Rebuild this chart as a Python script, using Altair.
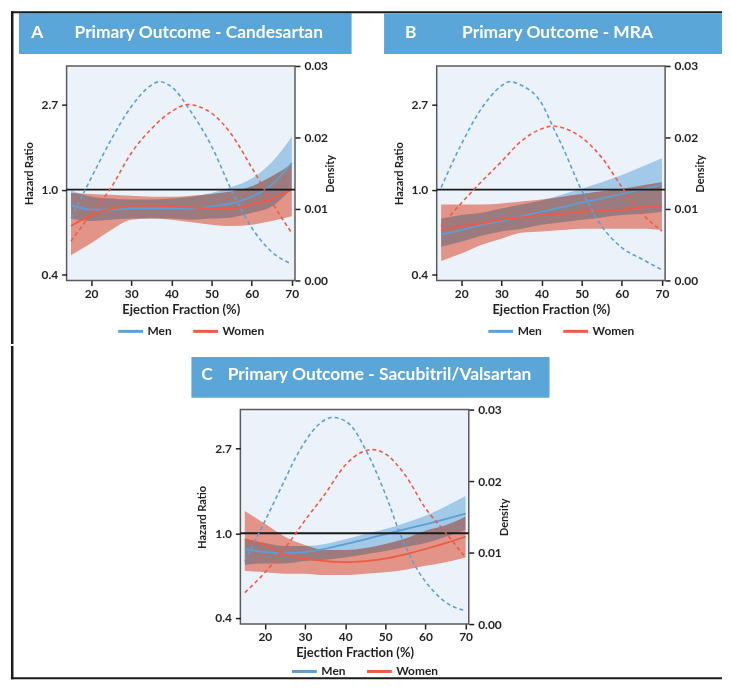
import altair as alt
import pandas as pd

# ---------------- data ----------------
EF = [15, 20, 25, 30, 35, 40, 45, 50, 55, 60, 65, 70]

# Panel A - Candesartan
a_men_hr = [0.83, 0.79, 0.79, 0.80, 0.80, 0.80, 0.80, 0.82, 0.85, 0.92, 1.06, 1.37]
a_men_lo = [0.71, 0.69, 0.70, 0.71, 0.71, 0.71, 0.70, 0.71, 0.72, 0.76, 0.82, 1.01]
a_men_hi = [0.99, 0.92, 0.90, 0.89, 0.89, 0.90, 0.92, 0.96, 1.03, 1.14, 1.38, 1.87]
a_wom_hr = [0.65, 0.74, 0.80, 0.82, 0.83, 0.82, 0.81, 0.80, 0.80, 0.84, 0.90, 1.00]
a_wom_lo = [0.46, 0.53, 0.62, 0.70, 0.71, 0.70, 0.68, 0.66, 0.65, 0.66, 0.69, 0.73]
a_wom_hi = [0.96, 0.95, 0.94, 0.93, 0.92, 0.92, 0.93, 0.95, 0.98, 1.04, 1.17, 1.35]
a_mden_x = [15, 20, 25, 30, 35, 37, 40, 45, 50, 55, 60, 65, 70]
a_mden = [0.0087, 0.0143, 0.0197, 0.0243, 0.0273, 0.0278, 0.0271, 0.0235, 0.0188, 0.0126, 0.0074, 0.0040, 0.0023]
a_wden_x = [15, 20, 25, 30, 35, 40, 44, 50, 55, 60, 65, 70]
a_wden = [0.0055, 0.0093, 0.0130, 0.0178, 0.0212, 0.0236, 0.0246, 0.0234, 0.0204, 0.0158, 0.0110, 0.0066]

# Panel B - MRA
b_men_hr = [0.59, 0.62, 0.66, 0.69, 0.73, 0.77, 0.81, 0.86, 0.90, 0.95, 1.00, 1.06]
b_men_lo = [0.51, 0.54, 0.58, 0.61, 0.63, 0.66, 0.68, 0.70, 0.72, 0.74, 0.75, 0.77]
b_men_hi = [0.71, 0.74, 0.76, 0.80, 0.84, 0.88, 0.94, 1.01, 1.09, 1.19, 1.31, 1.45]
b_wom_hr = [0.62, 0.65, 0.67, 0.70, 0.72, 0.74, 0.75, 0.77, 0.78, 0.79, 0.81, 0.82]
b_wom_lo = [0.43, 0.47, 0.52, 0.56, 0.60, 0.61, 0.62, 0.63, 0.63, 0.63, 0.63, 0.62]
b_wom_hi = [0.84, 0.84, 0.84, 0.85, 0.87, 0.89, 0.92, 0.95, 0.98, 1.01, 1.05, 1.09]
b_mden_x = [15, 20, 25, 30, 32, 35, 40, 43, 45, 50, 55, 60, 65, 70]
b_mden = [0.0130, 0.0190, 0.0240, 0.0272, 0.0278, 0.0273, 0.0248, 0.0213, 0.0190, 0.0126, 0.0076, 0.0046, 0.0030, 0.0015]
b_wden_x = [15, 20, 25, 30, 35, 40, 43, 45, 50, 55, 60, 65, 70]
b_wden = [0.0076, 0.0108, 0.0138, 0.0166, 0.0195, 0.0212, 0.0216, 0.0214, 0.0200, 0.0172, 0.0131, 0.0094, 0.0069]

# Panel C - Sacubitril/Valsartan
c_men_hr = [0.83, 0.80, 0.79, 0.80, 0.83, 0.88, 0.93, 0.99, 1.05, 1.11, 1.18, 1.26]
c_men_lo = [0.69, 0.70, 0.70, 0.72, 0.73, 0.75, 0.78, 0.81, 0.85, 0.89, 0.96, 1.04]
c_men_hi = [0.94, 0.89, 0.86, 0.86, 0.88, 0.93, 0.99, 1.05, 1.13, 1.23, 1.37, 1.55]
c_wom_hr = [0.93, 0.87, 0.78, 0.74, 0.72, 0.71, 0.72, 0.74, 0.78, 0.83, 0.89, 0.96]
c_wom_lo = [0.64, 0.63, 0.62, 0.62, 0.61, 0.61, 0.62, 0.63, 0.65, 0.68, 0.71, 0.75]
c_wom_hi = [1.30, 1.12, 0.96, 0.87, 0.82, 0.82, 0.84, 0.88, 0.94, 1.03, 1.10, 1.22]
c_mden_x = [15, 20, 25, 27.5, 30, 33, 37, 41, 45, 50, 54, 58, 62, 66, 70]
c_mden = [0.0088, 0.0144, 0.0202, 0.0231, 0.0255, 0.0277, 0.0289, 0.0280, 0.0245, 0.0182, 0.0122, 0.0076, 0.0046, 0.0027, 0.0019]
c_wden_x = [15, 20, 25, 30, 35, 40, 44, 47, 50, 55, 60, 65, 70]
c_wden = [0.0044, 0.0072, 0.0106, 0.0145, 0.0182, 0.0222, 0.0240, 0.0244, 0.0238, 0.0208, 0.0162, 0.0128, 0.0093]

SEXES = ["Men", "Women"]
HR_TICKS = [0.36788, 1.0, 2.71828]
X_TICKS = [20, 30, 40, 50, 60, 70]
D_TICKS = [0.0, 0.01, 0.02, 0.03]

# ---------------- style ----------------
FONT = "Lato"
INK = "#231f20"
BLUE = "#5b9fd6"
RED = "#ef5a44"
RED_BAND = "#ef5a3c"
BANNER = "#5ba6d8"
BG = "#ebf2fa"
FRAME = "#1a1a1a"
W, H = 230, 216
PAD = {"left": 2, "top": 0, "right": 0, "bottom": 0}

x_scale = alt.Scale(domain=[13.9, 70.8], nice=False, zero=False)
hr_scale = alt.Scale(type="log", domain=[0.342, 4.31], nice=False)
d_scale = alt.Scale(domain=[0, 0.03], nice=False, zero=False)

x_axis = alt.Axis(title="Ejection Fraction (%)", values=X_TICKS, format="d",
                  tickSize=5, labelPadding=3, titlePadding=4, titleFontSize=13)
hr_axis = alt.Axis(title="Hazard Ratio", values=HR_TICKS, format=".1f",
                   tickSize=5, labelPadding=4, titlePadding=7, titleFontSize=11)
d_axis = alt.Axis(title="Density", orient="right", values=D_TICKS, format=".2f",
                  titleAngle=270, tickSize=5, labelPadding=4, titlePadding=8,
                  titleFontSize=11)

one = pd.DataFrame({"v": [1.0]})


def make_legend(ly):
    # short flat path drawn wider than its nominal symbol box
    return alt.Legend(orient="none", legendX=58, legendY=ly, direction="horizontal",
                      title=None, symbolType="M-2.5,0H2.5", symbolSize=100,
                      symbolStrokeWidth=3, labelOffset=10.5, columnPadding=15.5,
                      labelFontSize=12, labelFont=FONT, labelFontWeight="bold",
                      labelColor=INK)


def panel(letter, title, hr, mden, wden, box, lx, tx, ty, frame, ly):
    m_hr, m_lo, m_hi, w_hr, w_lo, w_hi = hr
    men = pd.DataFrame({"ef": EF, "hr": m_hr, "lo": m_lo, "hi": m_hi, "sex": SEXES[0]})
    wom = pd.DataFrame({"ef": EF, "hr": w_hr, "lo": w_lo, "hi": w_hi, "sex": SEXES[1]})
    both = pd.concat([men, wom], ignore_index=True)
    md = pd.DataFrame({"ef": mden[0], "d": mden[1]})
    wd = pd.DataFrame({"ef": wden[0], "d": wden[1]})

    X = alt.X("ef:Q", scale=x_scale, axis=x_axis)

    banner = alt.Chart(one).mark_rect(color=BANNER).encode(
        x=alt.value(box[0]), x2=alt.value(box[1]),
        y=alt.value(box[2]), y2=alt.value(box[3]))
    txt = dict(align="left", baseline="middle", font=FONT, fontSize=17.5,
               fontWeight="bold", color="white")
    t1 = alt.Chart(one).mark_text(text=letter, **txt).encode(
        x=alt.value(lx), y=alt.value(ty))
    t2 = alt.Chart(one).mark_text(text=title, **txt).encode(
        x=alt.value(tx), y=alt.value(ty))
    # figure frame drawn as thin filled rectangles (exact bounds)
    rules = [alt.Chart(one).mark_rect(color=FRAME).encode(
        x=alt.value(r[0]), x2=alt.value(r[1]), y=alt.value(r[2]), y2=alt.value(r[3]))
        for r in frame]

    band_m = alt.Chart(men).mark_area(color=BLUE, opacity=0.5, interpolate="monotone").encode(
        x=X, y=alt.Y("lo:Q", scale=hr_scale, axis=hr_axis), y2="hi:Q")
    band_w = alt.Chart(wom).mark_area(color=RED_BAND, opacity=0.6, interpolate="monotone",
                                      blend="multiply").encode(
        x=X, y=alt.Y("lo:Q", scale=hr_scale, axis=hr_axis), y2="hi:Q")
    lines = alt.Chart(both).mark_line(strokeWidth=1.8, interpolate="monotone").encode(
        x=X, y=alt.Y("hr:Q", scale=hr_scale, axis=hr_axis),
        color=alt.Color("sex:N", scale=alt.Scale(domain=SEXES, range=[BLUE, RED]),
                        legend=make_legend(ly)))
    ref = alt.Chart(one).mark_rule(color=FRAME, strokeWidth=2).encode(
        y=alt.Y("v:Q", scale=hr_scale, axis=hr_axis))
    hr_layer = alt.layer(band_m, band_w, lines, ref)

    dm = alt.Chart(md).mark_line(color=BLUE, strokeDash=[4, 3], strokeWidth=1.6,
                                 interpolate="monotone").encode(
        x=X, y=alt.Y("d:Q", scale=d_scale, axis=d_axis))
    dw = alt.Chart(wd).mark_line(color=RED, strokeDash=[4, 3], strokeWidth=1.6,
                                 interpolate="monotone").encode(
        x=X, y=alt.Y("d:Q", scale=d_scale, axis=d_axis))
    d_layer = alt.layer(dm, dw)

    return alt.layer(banner, t1, t2, *rules, hr_layer, d_layer).resolve_scale(
        y="independent").properties(width=W, height=H)


pA = panel("A", "Primary Outcome - Candesartan",
           (a_men_hr, a_men_lo, a_men_hi, a_wom_hr, a_wom_lo, a_wom_hi),
           (a_mden_x, a_mden), (a_wden_x, a_wden),
           (-48, 287, -53, -12), -35.5, 8, -33.3,
           [(-56, 660, -55, -53), (-56, -53.5, -55, 280)], 260.5)
pB = panel("B", "Primary Outcome - MRA",
           (b_men_hr, b_men_lo, b_men_hi, b_wom_hr, b_wom_lo, b_wom_hi),
           (b_mden_x, b_mden), (b_wden_x, b_wden),
           (-53, 287.3, -53, -12), -32, 25.6, -33.3, [], 260.5)
pC = panel("C", "Primary Outcome - Sacubitril/Valsartan",
           (c_men_hr, c_men_lo, c_men_hi, c_wom_hr, c_wom_lo, c_wom_hi),
           (c_mden_x, c_mden), (c_wden_x, c_wden),
           (-49.3, 311.3, -53, -12), -39.3, -12.7, -34.3,
           [(-231, -228.5, -64, 271.5), (-231, 485, 269.5, 271.5)], 257)

# invisible spacer that shifts panel C to the right
spacer = alt.Chart(one).mark_point(opacity=0).encode(
    x=alt.value(0), y=alt.value(0)
).properties(width=1, height=1,
             view=alt.ViewBackground(fill="transparent", stroke="transparent"))

top = alt.hconcat(pA, pB, spacing=142.7, bounds="flush").resolve_scale(
    color="independent").resolve_legend(color="independent")
bottom = alt.hconcat(spacer, pC, spacing=174, bounds="flush").resolve_scale(
    color="independent").resolve_legend(color="independent")
chart = alt.vconcat(top, bottom, spacing=0).resolve_scale(
    color="independent").resolve_legend(color="independent")

chart = chart.properties(padding=PAD).configure(font=FONT).configure_view(
    fill=BG, stroke="#5a5a5a", strokeWidth=1.5
).configure_axis(
    grid=False, domain=False, tickColor=INK, tickWidth=1.5,
    labelFont=FONT, titleFont=FONT, labelFontSize=12,
    labelFontWeight="bold", titleFontWeight="bold",
    labelColor=INK, titleColor=INK
)

chart.save("out.html", embed_options={"renderer": "svg", "actions": False})
